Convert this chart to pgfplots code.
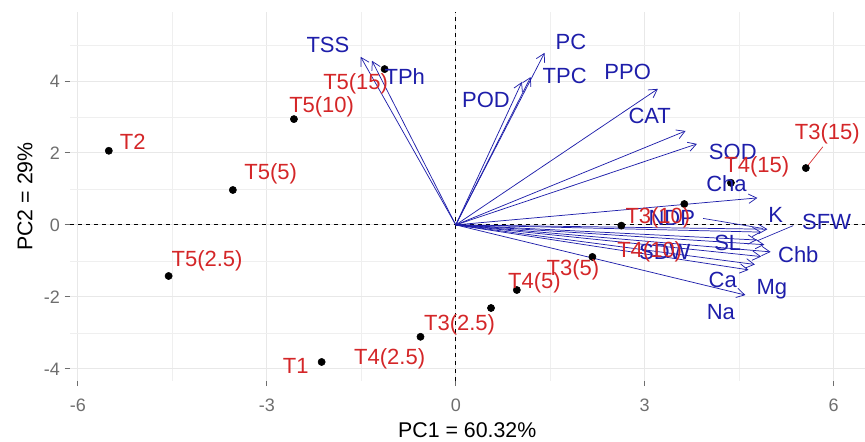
\documentclass[border=0pt]{standalone}
\usepackage{fontspec}
\setmainfont{Liberation Sans}
\usepackage{pgfplots}
\pgfplotsset{compat=1.18}
\usetikzlibrary{arrows.meta}

\definecolor{indred}{RGB}{212,38,40}
\definecolor{varblue}{RGB}{30,30,170}
\definecolor{gridgray}{RGB}{232,232,232}
\definecolor{tickgray}{RGB}{110,110,110}

% scores of the individuals
\pgfplotstableread{
x y
-5.51 2.06
-3.54 0.97
-4.56 -1.42
-2.57 2.94
-1.13 4.33
-2.13 -3.81
-0.56 -3.11
0.56 -2.31
0.97 -1.81
2.17 -0.89
2.63 -0.02
3.63 0.58
4.37 1.17
5.56 1.58
}\scores

% label positions (repelled)
\pgfplotstableread{
x y label
-5.13 2.31 T2
-2.94 1.42 T5(5)
-3.95 -1.00 T5(2.5)
-2.13 3.28 T5(10)
-1.59 3.92 T5(15)
-2.54 -3.92 T1
-1.05 -3.72 T4(2.5)
0.06 -2.78 T3(2.5)
1.25 -1.61 T4(5)
1.86 -1.25 T3(5)
3.21 0.19 T3(10)
3.08 -0.75 T4(10)
4.78 1.61 T4(15)
5.90 2.53 T3(15)
}\indlabels

% variable loadings (arrow tips)
\pgfplotstableread{
x y u v
0 0 -1.51 4.67
0 0 -1.33 4.56
0 0 1.41 4.78
0 0 1.19 4.11
0 0 1.05 3.97
0 0 3.21 3.78
0 0 3.65 2.61
0 0 3.83 2.25
0 0 4.79 0.75
0 0 4.95 -0.12
0 0 4.85 -0.20
0 0 4.78 -0.42
0 0 4.90 -0.55
0 0 5.00 -0.75
0 0 4.85 -0.88
0 0 4.75 -1.10
0 0 4.65 -1.25
0 0 4.60 -1.95
}\loadings

\pgfplotstableread{
x y label
-2.03 5.00 TSS
-0.81 4.11 TPh
1.83 5.08 PC
1.73 4.14 TPC
0.48 3.47 POD
2.73 4.25 PPO
3.08 3.03 CAT
4.40 2.03 SOD
4.30 1.14 Cha
5.08 0.28 K
5.89 0.08 SFW
4.32 -0.50 SL
5.44 -0.83 Chb
4.24 -1.53 Ca
5.02 -1.80 Mg
4.21 -2.42 Na
3.43 0.19 NDP
3.32 -0.75 SDW
}\varlabels

\begin{document}
\begin{tikzpicture}
\begin{axis}[
    scale only axis,
    width=596.25pt, height=276.75pt,
    xmin=-6.127, xmax=6.492,
    ymin=-4.333, ymax=5.917,
    clip=false,
    axis line style={draw=none},
    xtick={-6,-3,0,3,6},
    ytick={-4,-2,0,2,4},
    minor xtick={-4.5,-1.5,1.5,4.5},
    minor ytick={-3,-1,1,3,5},
    grid=both,
    major grid style={draw=gridgray, line width=0.7pt},
    minor grid style={draw=gridgray!70, line width=0.5pt},
    tick align=outside,
    xtick pos=bottom, ytick pos=left,
    major tick length=4pt,
    minor tick length=0pt,
    tick style={draw=tickgray, line width=0.7pt},
    /pgf/number format/assume math mode=true,
    ticklabel style={font=\fontsize{13.5}{15}\selectfont, text=tickgray},
    xticklabel style={yshift=-6pt},
    xlabel={PC1 = 60.32\%},
    ylabel={PC2 = 29\%},
    label style={font=\fontsize{16}{18}\selectfont},
    x label style={at={(axis description cs:0.5,-0.133)}, anchor=center},
    y label style={at={(axis description cs:-0.0566,0.5)}, anchor=center},
]

% reference lines
\addplot[black, line width=0.6pt, dash pattern=on 3pt off 3pt] coordinates {(0,-4.333) (0,5.917)};
\addplot[black, line width=0.6pt, dash pattern=on 3pt off 3pt] coordinates {(-6.127,0) (6.492,0)};

% variable arrows
\addplot[varblue, line width=0.55pt, -{Straight Barb[angle=60:7pt]},
    quiver={u=\thisrow{u}, v=\thisrow{v}}] table {\loadings};

% connector segments
\addplot[indred, line width=0.5pt] coordinates {(5.83,2.17) (5.56,1.58)};
\addplot[varblue, line width=0.5pt] coordinates {(5.36,-0.02) (4.79,-0.44)};
\addplot[varblue, line width=0.5pt] coordinates {(3.93,0.18) (4.88,-0.10)};

% individuals
\addplot[only marks, mark=*, mark size=2.7pt, black] table {\scores};

% labels
\addplot[only marks, mark=none, nodes near coords, point meta=explicit symbolic,
    nodes near coords style={anchor=center, inner sep=0pt, text=varblue, font=\fontsize{16.5}{18}\selectfont}]
    table[meta=label] {\varlabels};
\addplot[only marks, mark=none, nodes near coords, point meta=explicit symbolic,
    nodes near coords style={anchor=center, inner sep=0pt, text=indred, font=\fontsize{16.5}{18}\selectfont}]
    table[meta=label] {\indlabels};

\end{axis}
\path[use as bounding box] (-52.5pt,-45pt) rectangle (596.25pt,285.75pt);
\end{tikzpicture}
\end{document}
